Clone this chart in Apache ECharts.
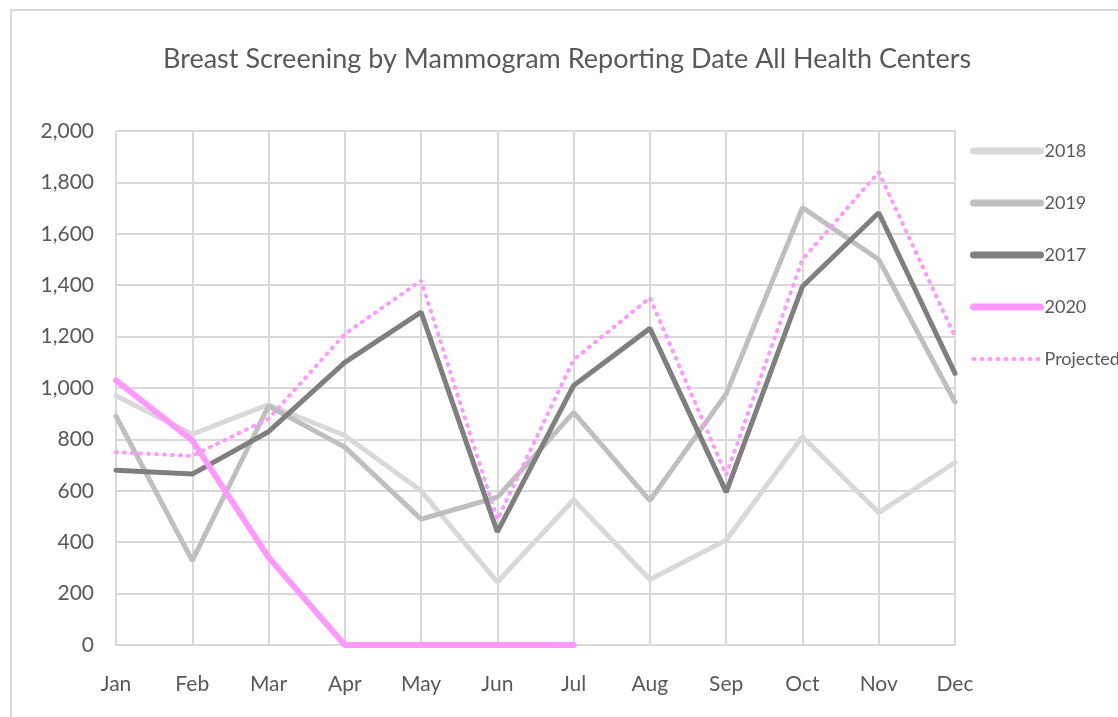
<!DOCTYPE html>
<html>
<head>
<meta charset="utf-8">
<script src="https://cdn.jsdelivr.net/npm/echarts@6/dist/echarts.min.js"></script>
<style>
  html, body { margin: 0; padding: 0; background: #fff; }
  #main { width: 1118px; height: 717px; }
</style>
</head>
<body>
<div id="main"></div>
<script>
// months on the x axis
var months = ['Jan', 'Feb', 'Mar', 'Apr', 'May', 'Jun', 'Jul', 'Aug', 'Sep', 'Oct', 'Nov', 'Dec'];
// screenings per year
var data2018 = [970, 820, 935, 815, 600, 245, 565, 255, 408, 810, 515, 710];
var data2019 = [890, 328, 930, 770, 490, 575, 905, 562, 977, 1702, 1500, 945];
var data2017 = [680, 665, 830, 1100, 1295, 440, 1010, 1232, 595, 1395, 1682, 1057];
var data2020 = [1030, 796, 341, 0, 0, 0, 0, null, null, null, null, null];
var projected = [750, 736, 880, 1210, 1418, 488, 1110, 1351, 662, 1500, 1840, 1200];
var yTicks = [0, 200, 400, 600, 800, 1000, 1200, 1400, 1600, 1800, 2000];

var font = 'Lato, "Liberation Sans", sans-serif';
var txt = '#595959';

var myChart = echarts.init(document.getElementById('main'));

function lineSeries(name, data, color, width, type) {
  return {
    name: name,
    type: 'line',
    data: data,
    symbol: 'none',
    connectNulls: false,
    lineStyle: { color: color, width: width, type: type || 'solid', cap: 'round' },
    itemStyle: { color: color }
  };
}

myChart.setOption({
  animation: false,
  title: {
    text: 'Breast Screening by Mammogram Reporting Date All Health Centers',
    left: 163,
    top: 46,
    padding: 0,
    textStyle: { fontFamily: font, fontSize: 27, fontWeight: 'normal', color: txt }
  },
  graphic: [{
    type: 'rect',
    shape: { x: 11, y: 10, width: 1200, height: 800 },
    style: { fill: 'none', stroke: '#d9d9d9', lineWidth: 2 }
  }],
  legend: {
    orient: 'vertical',
    left: 970,
    top: 138,
    padding: 0,
    itemWidth: 67,
    itemHeight: 14,
    itemGap: 26,
    itemStyle: { opacity: 0 },
    lineStyle: { width: 7 },
    data: ['2018', '2019', '2017', '2020', { name: 'Projected', lineStyle: { width: 4 } }],
    textStyle: { fontFamily: font, fontSize: 18, color: txt, lineHeight: 26, padding: [0, 0, 0, -1] }
  },
  grid: { left: 116, right: 163, top: 131, bottom: 72 },
  xAxis: {
    type: 'category',
    data: months,
    boundaryGap: false,
    axisLine: { show: true, lineStyle: { color: '#d9d9d9', width: 2 } },
    axisTick: { show: false },
    axisLabel: { fontFamily: font, fontSize: 21, color: txt, margin: 29 },
    splitLine: { show: true, lineStyle: { color: '#d9d9d9', width: 2 } }
  },
  yAxis: {
    type: 'value',
    min: yTicks[0],
    max: yTicks[yTicks.length - 1],
    interval: 200,
    axisLine: { show: false },
    axisTick: { show: false },
    axisLabel: {
      fontFamily: font, fontSize: 21, color: txt, margin: 22,
      formatter: function (v) { return v.toLocaleString('en-US'); }
    },
    splitLine: { show: true, lineStyle: { color: '#d9d9d9', width: 2 } }
  },
  series: [
    lineSeries('2018', data2018, '#d9d9d9', 5),
    lineSeries('2019', data2019, '#bfbfbf', 5),
    lineSeries('2017', data2017, '#7f7f7f', 5),
    lineSeries('2020', data2020, '#ff99ff', 6),
    lineSeries('Projected', projected, '#ff99ff', 4, [1, 7])
  ]
});
</script>
</body>
</html>
